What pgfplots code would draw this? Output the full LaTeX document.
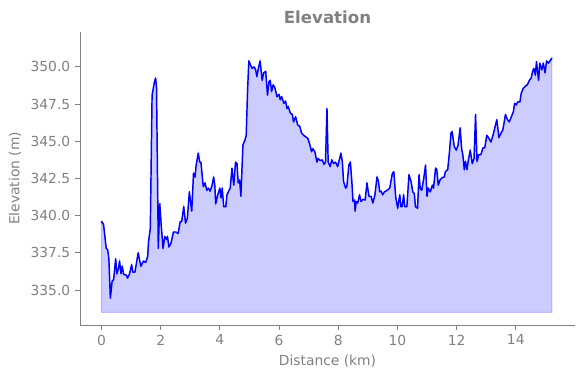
\documentclass[border=0pt]{standalone}
\usepackage{pgfplots}
\pgfplotsset{compat=1.18}
\usepackage{pgfplotstable}
\usepgfplotslibrary{fillbetween}
\usetikzlibrary{calc}
\usepackage{fontspec}
\setmainfont{DejaVu Sans}
\definecolor{tgray}{RGB}{128,128,128}
\pgfplotstableread{
x y
0.00 339.5
0.01 339.6
0.07 339.4
0.16 337.8
0.21 337.7
0.25 337.1
0.30 334.45
0.36 335.6
0.41 335.7
0.48 337.1
0.52 336.1
0.58 336.5
0.61 336.95
0.66 336.1
0.70 336.6
0.75 336.05
0.84 336.0
0.88 335.8
0.95 336.1
1.02 336.7
1.06 336.2
1.13 336.2
1.24 337.5
1.33 336.6
1.42 336.95
1.49 336.85
1.56 337.25
1.59 338.25
1.65 339.15
1.71 348.1
1.79 349.0
1.83 349.25
1.86 348.6
1.92 337.8
1.97 340.8
2.01 339.6
2.08 337.8
2.14 338.6
2.20 338.4
2.23 338.6
2.28 337.9
2.35 338.15
2.43 338.9
2.51 338.9
2.59 338.8
2.66 339.6
2.71 339.6
2.78 340.6
2.84 339.5
2.90 339.8
2.97 341.6
3.05 340.3
3.11 342.85
3.16 342.6
3.20 343.4
3.27 344.2
3.32 343.6
3.36 343.6
3.44 341.95
3.50 342.2
3.56 341.7
3.61 341.85
3.67 341.65
3.74 342.05
3.79 342.6
3.83 342.05
3.86 340.8
3.93 341.4
4.00 341.85
4.04 341.2
4.08 341.85
4.13 340.6
4.20 340.6
4.24 341.4
4.31 341.7
4.35 341.85
4.41 343.2
4.47 342.05
4.53 343.6
4.58 343.5
4.62 342.2
4.67 342.4
4.71 341.3
4.78 344.75
4.85 345.1
4.89 345.4
4.94 348.6
4.98 350.4
5.03 350.15
5.09 349.9
5.16 350.0
5.21 349.8
5.25 349.35
5.30 349.9
5.36 350.4
5.43 349.1
5.48 349.6
5.55 349.7
5.61 348.1
5.66 349.0
5.70 349.1
5.75 348.35
5.80 348.8
5.86 348.6
5.93 348.0
6.00 348.15
6.04 347.8
6.09 348.0
6.16 347.55
6.22 347.7
6.27 347.2
6.31 347.35
6.38 346.9
6.45 346.8
6.49 346.3
6.56 346.65
6.63 346.1
6.70 346.0
6.76 345.55
6.83 345.4
6.90 345.3
6.97 345.2
7.03 344.85
7.10 344.3
7.14 344.5
7.21 344.3
7.28 343.6
7.32 343.85
7.39 343.7
7.46 343.75
7.52 343.45
7.57 343.6
7.62 347.2
7.66 343.6
7.73 343.3
7.78 343.75
7.85 343.5
7.91 343.6
7.98 343.3
8.05 343.85
8.09 344.2
8.14 343.6
8.18 342.3
8.25 341.85
8.29 341.95
8.36 343.4
8.41 343.6
8.46 342.3
8.50 340.95
8.55 341.05
8.57 340.3
8.61 340.95
8.66 340.85
8.72 341.4
8.77 340.95
8.84 341.1
8.91 341.05
8.97 342.2
9.04 341.3
9.11 341.3
9.17 340.85
9.24 341.4
9.31 342.6
9.36 342.3
9.40 341.6
9.45 341.65
9.50 341.4
9.56 341.6
9.65 341.7
9.74 341.85
9.83 342.85
9.88 342.95
9.94 341.3
10.01 340.5
10.08 341.4
10.12 340.6
10.16 340.6
10.21 341.4
10.25 340.6
10.32 340.6
10.39 342.75
10.46 342.3
10.52 341.6
10.57 341.5
10.61 340.6
10.68 340.5
10.73 342.75
10.77 341.85
10.82 341.7
10.89 342.5
10.95 343.4
11.00 341.3
11.04 341.85
11.11 341.6
11.18 342.05
11.22 341.85
11.29 343.2
11.33 343.1
11.38 342.05
11.44 342.4
11.51 342.55
11.58 342.6
11.62 342.95
11.70 343.1
11.76 344.3
11.81 345.55
11.85 345.65
11.92 344.65
11.99 344.4
12.05 344.75
12.12 345.9
12.17 344.5
12.21 344.1
12.26 343.1
12.30 343.65
12.35 343.1
12.39 343.65
12.46 344.4
12.53 343.5
12.59 343.85
12.64 346.8
12.69 343.65
12.75 344.1
12.82 344.1
12.89 344.55
12.95 344.55
13.02 345.4
13.09 345.2
13.16 344.95
13.23 345.4
13.29 345.9
13.36 346.45
13.43 345.25
13.50 345.55
13.56 345.75
13.61 346.3
13.65 346.8
13.72 346.45
13.78 346.3
13.85 346.65
13.92 347.0
13.96 347.55
14.02 347.45
14.07 347.65
14.14 347.65
14.18 348.2
14.25 348.55
14.32 348.7
14.39 348.8
14.46 349.1
14.52 349.25
14.57 349.7
14.61 349.9
14.66 349.45
14.70 350.35
14.77 349.1
14.81 350.25
14.88 349.8
14.93 350.25
14.99 349.6
15.04 350.4
15.11 350.25
15.17 350.45
15.22 350.6
}\elev
\begin{document}
\begin{tikzpicture}
\begin{axis}[
  scale only axis,
  width=356.4bp, height=211bp,
  xmin=-0.726, xmax=16.0,
  ymin=332.65, ymax=352.35,
  axis x line*=bottom, axis y line*=left,
  axis line style={tgray, line width=0.6bp, -},
  tick style={tgray, line width=0.6bp},
  tick align=outside,
  major tick length=3.5bp,
  xtick={0,2,...,14},
  ytick={335,337.5,...,350},
  yticklabel style={/pgf/number format/.cd, fixed, fixed zerofill, precision=1},
  xticklabel style={/pgf/number format/.cd, fixed},
  /pgf/number format/assume math mode=true,
  tick label style={font=\fontsize{10}{12}\selectfont, text=tgray},
  label style={font=\fontsize{10}{12}\selectfont, text=tgray},
  xlabel={Distance (km)},
  ylabel={Elevation (m)},
  title={\bfseries Elevation},
  title style={font=\fontsize{12}{14}\selectfont, text=tgray, yshift=-3.5bp},
  clip=false,
]
\addplot[draw=none, name path=line, forget plot] table[x=x,y=y] {\elev};
\addplot[draw=none, name path=base, forget plot] coordinates {(0,333.5) (15.22,333.5)};
\addplot[fill=blue, fill opacity=0.2, draw=blue, draw opacity=0.2, line width=0.8bp] fill between[of=line and base];
\addplot[blue, line width=1.05bp, line join=round] table[x=x,y=y] {\elev};
\coordinate (ll) at (rel axis cs:0,0);
\coordinate (ur) at (rel axis cs:1,1);
\end{axis}
\pgfresetboundingbox
\path[use as bounding box] ($(ll)+(-57.6bp,-38.2bp)$) rectangle ($(ur)+(6.5bp,23bp)$);
\end{tikzpicture}
\end{document}
